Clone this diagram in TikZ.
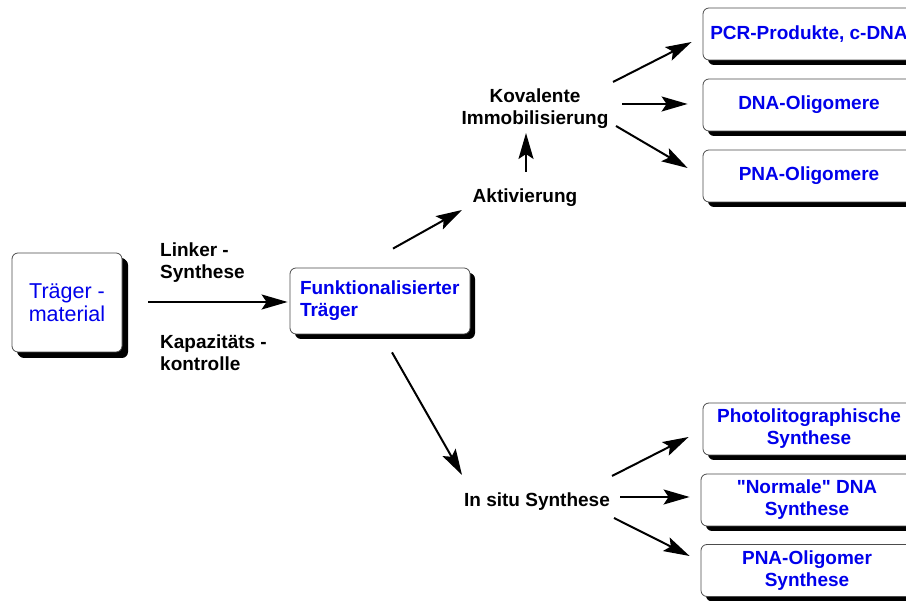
\documentclass[tikz,border=0pt]{standalone}
\usepackage{fontspec}
\setmainfont{Liberation Sans}
\usepackage{tikz}
\usetikzlibrary{arrows.meta, positioning, calc, shadows}
\definecolor{labelblue}{RGB}{0, 0, 235}

\begin{document}
\begin{tikzpicture}[x=1pt, y=1pt,
    box/.style={draw=black!70, fill=white, rounded corners=6pt, line width=0.8pt, text=labelblue,
        font=\fontsize{19}{22}\selectfont\bfseries,
        general shadow={fill=black, shadow xshift=5pt, shadow yshift=-5pt}},
    endbox/.style={box, minimum width=212pt, minimum height=52pt, align=center, inner sep=0pt},
    lbl/.style={font=\fontsize{19}{22}\selectfont\bfseries, inner sep=0pt},
    arr/.style={-{Stealth[length=26pt, width=15pt, inset=5pt]}, line width=2pt}]
    \useasboundingbox (0,0) rectangle (906,601);
    \clip (0,0) rectangle (906,601);

    % Traeger and functionalised carrier
    \node[box, minimum width=110pt, minimum height=99pt, align=center, font=\fontsize{21.5}{23}\selectfont,
        general shadow={fill=black, shadow xshift=6pt, shadow yshift=-6pt}] (traeger) at (67,298.5) {Träger -\\material};
    \node[box, text width=160pt, inner xsep=10pt, minimum height=66pt, align=left] (funk) at (380,300) {Funktionalisierter\\Träger};
    \node[lbl, anchor=west, align=left] (linker) at (160,338) {Linker -\\Synthese};
    \node[lbl, anchor=west, align=left] (kapaz) at (160,248) {Kapazitäts -\\kontrolle};

    % upper branch
    \node[lbl] (akt) at (525,403) {Aktivierung};
    \node[lbl, align=center] (kov) at (535,492) {Kovalente\\Immobilisierung};
    \node[endbox] (pcr) at (809,567) {PCR-Produkte, c-DNA};
    \node[endbox] (dna) at (809,496) {DNA-Oligomere};
    \node[endbox] (pna) at (809,425) {PNA-Oligomere};

    % lower branch
    \node[lbl] (insitu) at (537,99) {In situ Synthese};
    \node[endbox] (photo) at (809,172) {Photolitographische\\Synthese};
    \node[endbox] (normal) at (807,101) {\textquotedbl Normale\textquotedbl{} DNA\\Synthese};
    \node[endbox] (pnasyn) at (807,30.5) {PNA-Oligomer\\Synthese};

    \draw[arr] ([shift={(26,0.5)}]traeger.east) -- ([shift={(-2,-1)}]funk.west);
    \draw[arr] ([shift={(13,19)}]funk.north) -- ([shift={(-63,-12)}]akt.center);
    \draw[arr] ([shift={(1,26)}]akt.center) -- ([shift={(-9,-24)}]kov.center);
    \draw[arr] ([shift={(78,27)}]kov.center) -- ([shift={(-11,-8)}]pcr.west);
    \draw[arr] ([shift={(87,5)}]kov.center) -- ([shift={(-15,1)}]dna.west);
    \draw[arr] ([shift={(81,-17)}]kov.center) -- ([shift={(-15,8)}]pna.west);
    \draw[arr] ([shift={(12,-18)}]funk.south) -- ([shift={(-75,27)}]insitu.center);
    \draw[arr] ([shift={(75,26)}]insitu.center) -- ([shift={(-14,-8)}]photo.west);
    \draw[arr] ([shift={(83,5)}]insitu.center) -- ([shift={(-11,3)}]normal.west);
    \draw[arr] ([shift={(77,-16)}]insitu.center) -- ([shift={(-11,14.5)}]pnasyn.west);
\end{tikzpicture}
\end{document}
